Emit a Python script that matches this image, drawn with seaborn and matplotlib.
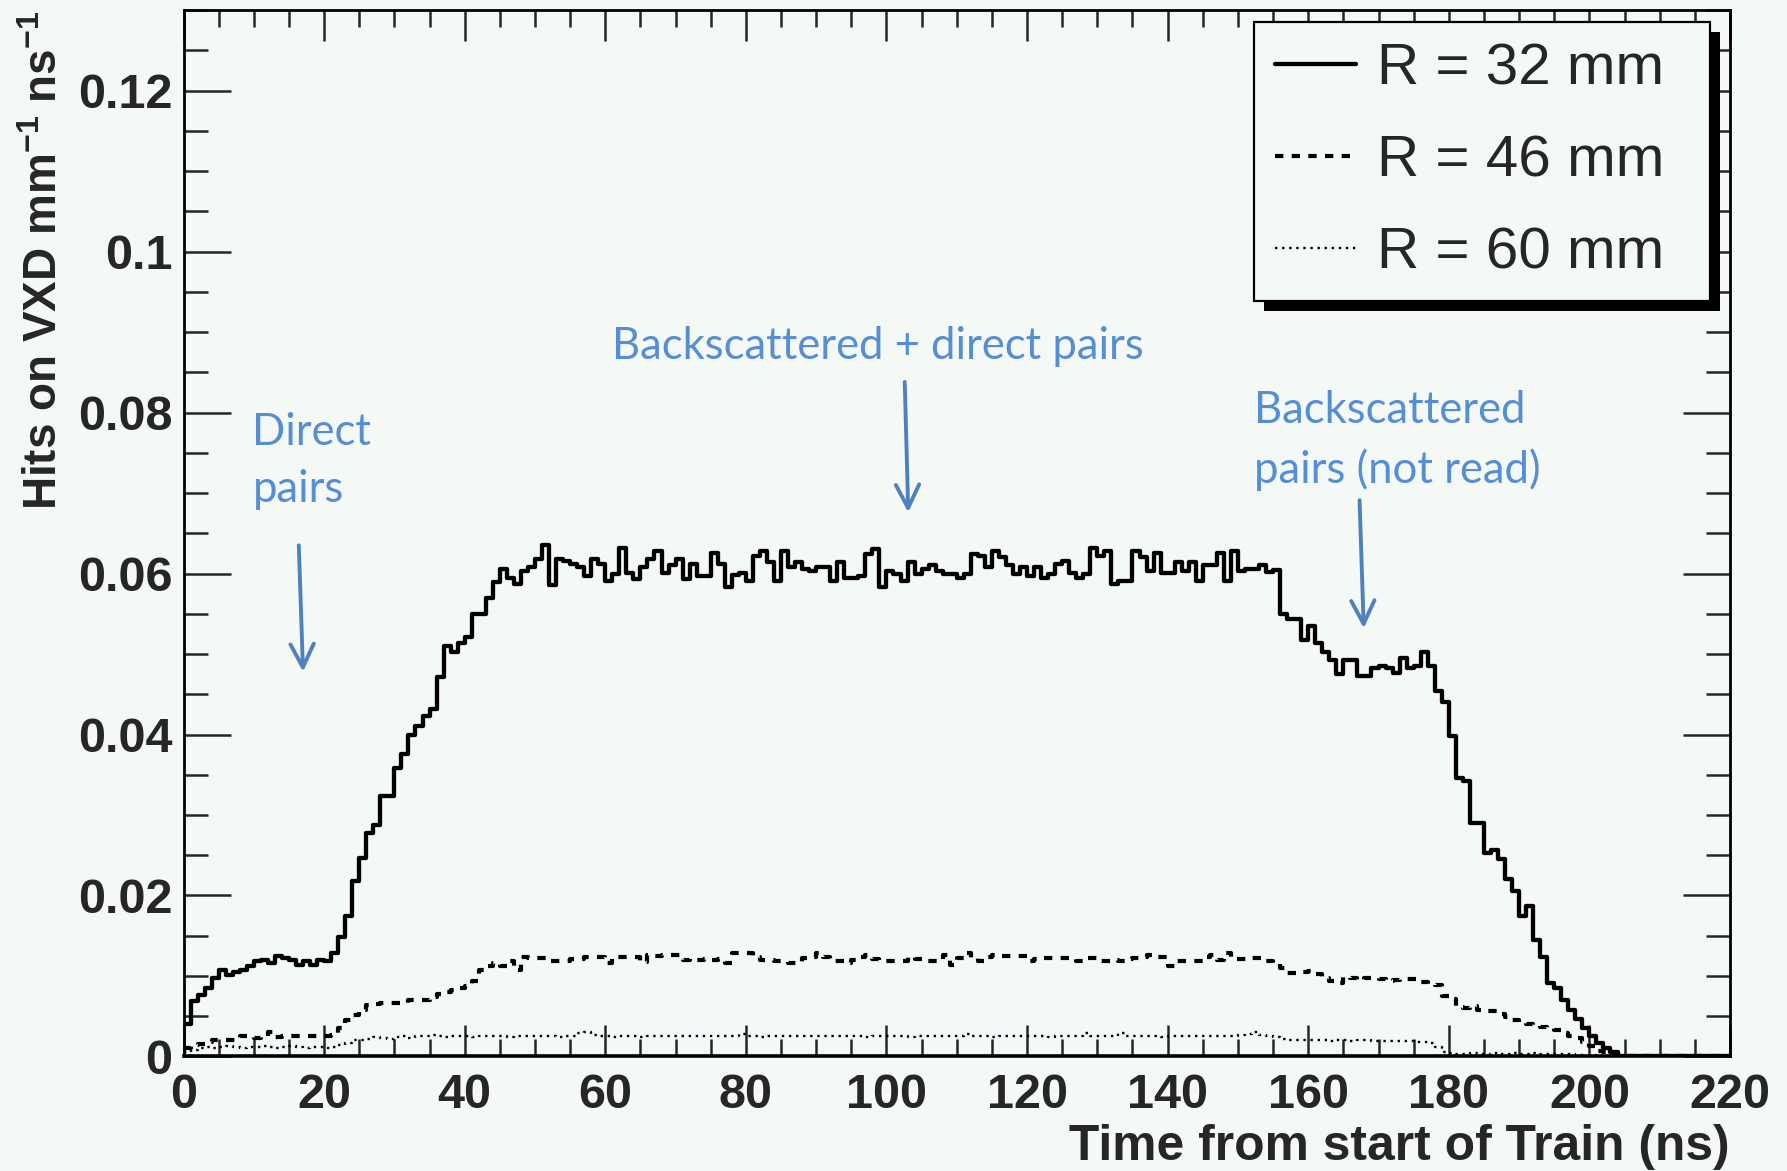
import numpy as np
import pandas as pd
import matplotlib
matplotlib.use("Agg")
import matplotlib.pyplot as plt
import seaborn as sns
from matplotlib.lines import Line2D
from matplotlib.patches import Rectangle
from matplotlib.ticker import MultipleLocator

# hits on VXD per 1 ns bin, starting at t = 0 ns (bins after the last value are empty)
r32_hits = [
    0.0040, 0.0069, 0.0076, 0.0085, 0.0098, 0.0107, 0.0101, 0.0105, 0.0108, 0.0113,
    0.0118, 0.0120, 0.0116, 0.0125, 0.0122, 0.0120, 0.0114, 0.0118, 0.0114, 0.0120,
    0.0118, 0.0128, 0.0149, 0.0174, 0.0218, 0.0247, 0.0278, 0.0287, 0.0323, 0.0323,
    0.0358, 0.0376, 0.0399, 0.0410, 0.0423, 0.0432, 0.0472, 0.0510, 0.0503, 0.0514,
    0.0521, 0.0550, 0.0550, 0.0570, 0.0590, 0.0606, 0.0595, 0.0587, 0.0603, 0.0608,
    0.0618, 0.0636, 0.0586, 0.0618, 0.0615, 0.0612, 0.0608, 0.0597, 0.0618, 0.0612,
    0.0591, 0.0599, 0.0632, 0.0601, 0.0593, 0.0608, 0.0618, 0.0628, 0.0601, 0.0610,
    0.0618, 0.0593, 0.0612, 0.0597, 0.0597, 0.0626, 0.0612, 0.0583, 0.0598, 0.0601,
    0.0591, 0.0622, 0.0628, 0.0614, 0.0591, 0.0628, 0.0608, 0.0614, 0.0605, 0.0603,
    0.0608, 0.0608, 0.0591, 0.0614, 0.0595, 0.0595, 0.0597, 0.0624, 0.0630, 0.0583,
    0.0603, 0.0599, 0.0591, 0.0614, 0.0599, 0.0605, 0.0610, 0.0603, 0.0599, 0.0599,
    0.0595, 0.0599, 0.0624, 0.0622, 0.0608, 0.0628, 0.0620, 0.0610, 0.0599, 0.0608,
    0.0597, 0.0608, 0.0595, 0.0599, 0.0612, 0.0616, 0.0601, 0.0595, 0.0599, 0.0632,
    0.0622, 0.0628, 0.0587, 0.0591, 0.0591, 0.0628, 0.0620, 0.0603, 0.0626, 0.0601,
    0.0601, 0.0614, 0.0603, 0.0614, 0.0591, 0.0610, 0.0610, 0.0626, 0.0591, 0.0628,
    0.0603, 0.0606, 0.0606, 0.0610, 0.0602, 0.0604, 0.0550, 0.0543, 0.0543, 0.0518,
    0.0535, 0.0514, 0.0502, 0.0492, 0.0475, 0.0492, 0.0492, 0.0473, 0.0473, 0.0483,
    0.0485, 0.0483, 0.0477, 0.0495, 0.0483, 0.0485, 0.0503, 0.0485, 0.0454, 0.0440,
    0.0398, 0.0346, 0.0342, 0.0290, 0.0290, 0.0253, 0.0257, 0.0245, 0.0220, 0.0205,
    0.0174, 0.0187, 0.0145, 0.0124, 0.0091, 0.0085, 0.0070, 0.0058, 0.0046, 0.0035,
    0.0025, 0.0017, 0.0010, 0.0006,
]

r46_hits = [
    0.0010, 0.0014, 0.0016, 0.0018, 0.0021, 0.0020, 0.0021, 0.0021, 0.0026, 0.0024,
    0.0023, 0.0026, 0.0030, 0.0024, 0.0025, 0.0026, 0.0026, 0.0026, 0.0026, 0.0026,
    0.0026, 0.0027, 0.0035, 0.0045, 0.0052, 0.0058, 0.0064, 0.0065, 0.0067, 0.0066,
    0.0067, 0.0067, 0.0070, 0.0070, 0.0070, 0.0074, 0.0078, 0.0080, 0.0083, 0.0085,
    0.0088, 0.0094, 0.0108, 0.0112, 0.0116, 0.0113, 0.0119, 0.0108, 0.0123, 0.0122,
    0.0122, 0.0122, 0.0119, 0.0119, 0.0119, 0.0121, 0.0121, 0.0123, 0.0123, 0.0123,
    0.0116, 0.0123, 0.0123, 0.0123, 0.0123, 0.0117, 0.0126, 0.0125, 0.0126, 0.0126,
    0.0126, 0.0120, 0.0121, 0.0120, 0.0121, 0.0120, 0.0121, 0.0116, 0.0128, 0.0128,
    0.0128, 0.0124, 0.0120, 0.0120, 0.0119, 0.0119, 0.0116, 0.0116, 0.0122, 0.0124,
    0.0128, 0.0123, 0.0119, 0.0118, 0.0116, 0.0120, 0.0124, 0.0126, 0.0121, 0.0118,
    0.0118, 0.0118, 0.0118, 0.0123, 0.0121, 0.0119, 0.0119, 0.0119, 0.0126, 0.0114,
    0.0122, 0.0129, 0.0122, 0.0119, 0.0124, 0.0126, 0.0125, 0.0125, 0.0125, 0.0125,
    0.0119, 0.0121, 0.0122, 0.0122, 0.0122, 0.0122, 0.0121, 0.0119, 0.0122, 0.0122,
    0.0119, 0.0119, 0.0120, 0.0119, 0.0121, 0.0122, 0.0124, 0.0126, 0.0124, 0.0123,
    0.0112, 0.0119, 0.0119, 0.0119, 0.0119, 0.0124, 0.0126, 0.0120, 0.0129, 0.0121,
    0.0121, 0.0121, 0.0122, 0.0122, 0.0119, 0.0116, 0.0110, 0.0104, 0.0104, 0.0105,
    0.0106, 0.0102, 0.0097, 0.0094, 0.0091, 0.0099, 0.0097, 0.0095, 0.0097, 0.0098,
    0.0096, 0.0094, 0.0095, 0.0096, 0.0096, 0.0096, 0.0092, 0.0090, 0.0089, 0.0075,
    0.0071, 0.0062, 0.0060, 0.0063, 0.0058, 0.0057, 0.0056, 0.0053, 0.0049, 0.0045,
    0.0042, 0.0040, 0.0039, 0.0036, 0.0035, 0.0033, 0.0029, 0.0025, 0.0023, 0.0018,
    0.0013, 0.0007, 0.0005, 0.0003,
]

r60_hits = [
    0.0005, 0.0008, 0.0011, 0.0012, 0.0011, 0.0012, 0.0013, 0.0012, 0.0011, 0.0012,
    0.0012, 0.0013, 0.0012, 0.0011, 0.0012, 0.0013, 0.0012, 0.0011, 0.0012, 0.0012,
    0.0011, 0.0012, 0.0014, 0.0017, 0.0020, 0.0021, 0.0022, 0.0024, 0.0023, 0.0022,
    0.0024, 0.0025, 0.0023, 0.0026, 0.0025, 0.0027, 0.0025, 0.0024, 0.0025, 0.0026,
    0.0025, 0.0024, 0.0025, 0.0026, 0.0025, 0.0025, 0.0024, 0.0026, 0.0025, 0.0025,
    0.0026, 0.0025, 0.0025, 0.0024, 0.0025, 0.0026, 0.0029, 0.0030, 0.0027, 0.0025,
    0.0025, 0.0024, 0.0025, 0.0025, 0.0025, 0.0024, 0.0025, 0.0025, 0.0025, 0.0025,
    0.0025, 0.0025, 0.0025, 0.0026, 0.0025, 0.0025, 0.0025, 0.0026, 0.0025, 0.0028,
    0.0025, 0.0025, 0.0024, 0.0025, 0.0025, 0.0025, 0.0025, 0.0025, 0.0025, 0.0025,
    0.0025, 0.0025, 0.0025, 0.0025, 0.0026, 0.0025, 0.0025, 0.0024, 0.0025, 0.0025,
    0.0025, 0.0025, 0.0025, 0.0024, 0.0025, 0.0025, 0.0026, 0.0025, 0.0025, 0.0025,
    0.0025, 0.0028, 0.0026, 0.0025, 0.0025, 0.0024, 0.0025, 0.0025, 0.0026, 0.0025,
    0.0025, 0.0025, 0.0025, 0.0024, 0.0025, 0.0025, 0.0025, 0.0026, 0.0029, 0.0025,
    0.0025, 0.0025, 0.0026, 0.0029, 0.0025, 0.0025, 0.0025, 0.0025, 0.0025, 0.0024,
    0.0025, 0.0025, 0.0026, 0.0025, 0.0025, 0.0025, 0.0025, 0.0025, 0.0025, 0.0026,
    0.0027, 0.0028, 0.0030, 0.0027, 0.0025, 0.0024, 0.0022, 0.0021, 0.0020, 0.0020,
    0.0021, 0.0020, 0.0020, 0.0019, 0.0020, 0.0020, 0.0019, 0.0020, 0.0020, 0.0019,
    0.0019, 0.0019, 0.0019, 0.0019, 0.0019, 0.0018, 0.0018, 0.0017, 0.0012, 0.0006,
    0.0004, 0.0003, 0.0003, 0.0004, 0.0003, 0.0003, 0.0004, 0.0003, 0.0003, 0.0004,
    0.0003, 0.0003, 0.0004, 0.0003, 0.0003, 0.0003, 0.0003, 0.0003, 0.0002, 0.0002,
    0.0002,
]

series_labels = ["R = 32 mm", "R = 46 mm", "R = 60 mm"]
x_ticks = [0, 20, 40, 60, 80, 100, 120, 140, 160, 180, 200, 220]
x_tick_labels = ["0", "20", "40", "60", "80", "100", "120", "140", "160", "180", "200", "220"]
y_ticks = [0, 0.02, 0.04, 0.06, 0.08, 0.1, 0.12]
y_tick_labels = ["0", "0.02", "0.04", "0.06", "0.08", "0.1", "0.12"]

bg = "#f5f9f6"
text_blue = "#558ed5"
arrow_blue = "#4f81bd"

sns.set_style("ticks")
plt.rcParams["font.family"] = ["Liberation Sans", "DejaVu Sans"]
plt.rcParams["mathtext.fontset"] = "custom"
plt.rcParams["mathtext.rm"] = "Liberation Sans"
plt.rcParams["mathtext.bf"] = "Liberation Sans:bold"

fig = plt.figure(figsize=(17.87, 11.71), dpi=100, facecolor=bg)
ax = fig.add_axes([0.1027, 0.0978, 0.8654, 0.8936])
ax.set_facecolor(bg)

# 1 ns histogram bins over the full time axis (0..220 ns), drawn as steps
n_bins = 220
edges = np.arange(0, n_bins + 1, 1)
styles = [("-", 3.1), ((0, (2.0, 2.0)), 3.0), ((0, (1.0, 2.0)), 1.7)]
for hits, (ls, lw) in zip([r32_hits, r46_hits, r60_hits], styles):
    heights = hits + [0.0] * (n_bins - len(hits))
    df = pd.DataFrame({"t": edges, "h": heights + [heights[-1]]})
    sns.lineplot(data=df, x="t", y="h", estimator=None, sort=False,
                 drawstyle="steps-post", color="black", linewidth=lw,
                 linestyle=ls, dash_capstyle="butt", ax=ax)

ax.set_xlim(0, 220)
ax.set_ylim(0, 0.13)

ax.set_xticks(x_ticks)
ax.set_xticklabels(x_tick_labels, fontsize=35, fontweight="bold")
ax.set_yticks(y_ticks)
ax.set_yticklabels(y_tick_labels, fontsize=35, fontweight="bold")
ax.xaxis.set_minor_locator(MultipleLocator(5))
ax.yaxis.set_minor_locator(MultipleLocator(0.005))

ax.tick_params(axis="y", which="major", direction="in", length=34, width=1.8,
               left=True, right=True, pad=8)
ax.tick_params(axis="y", which="minor", direction="in", length=17, width=1.8,
               left=True, right=True)
ax.tick_params(axis="x", which="major", direction="in", length=22, width=1.8,
               bottom=True, top=True, pad=12)
ax.tick_params(axis="x", which="minor", direction="in", length=12, width=1.8,
               bottom=True, top=True)
for side in ["left", "right", "top", "bottom"]:
    ax.spines[side].set_visible(True)
    ax.spines[side].set_linewidth(2.0)
    ax.spines[side].set_color("black")
ax.spines["bottom"].set_linewidth(2.6)

ax.set_xlabel("Time from start of Train (ns)", loc="right", fontsize=35.8,
              fontweight="bold", labelpad=4)
ax.set_ylabel(r"Hits on VXD mm$^{\mathbf{-1}}$ ns$^{\mathbf{-1}}$", loc="top",
              fontsize=33, fontweight="bold", labelpad=8)

# annotations
ann_font = dict(color=text_blue, fontsize=31.4, family=["Lato", "DejaVu Sans"],
                linespacing=1.5)
ax.text(9.8, 0.0801, "Direct\npairs", ha="left", va="top", **ann_font)
ax.text(61.0, 0.0882, "Backscattered + direct pairs", ha="left", va="center", **ann_font)
ax.text(152.3, 0.0828, "Backscattered\npairs (not read)", ha="left", va="top", **ann_font)

arrow_kw = dict(arrowstyle="->,head_length=1.4,head_width=0.7", color=arrow_blue,
                lw=2.8, shrinkA=0, shrinkB=0, mutation_scale=12)
for start, end in [((16.4, 0.0635), (17.0, 0.0478)),
                   ((102.6, 0.0838), (103.1, 0.0676)),
                   ((167.3, 0.0691), (167.9, 0.0532))]:
    ax.annotate("", xy=end, xytext=start, arrowprops=arrow_kw)

# ROOT style legend with a solid shadow
handles = [Line2D([], [], color="black", lw=lw, ls=ls, dash_capstyle="butt")
           for ls, lw in styles]
leg = ax.legend(handles, series_labels, loc="upper left",
                bbox_to_anchor=(0.692, 0.729, 0.2948, 0.26), mode="expand",
                fontsize=42, frameon=True, fancybox=False, framealpha=1,
                edgecolor="black", facecolor=bg, borderpad=0.36,
                handlelength=1.4, handletextpad=0.35, labelspacing=0.65,
                borderaxespad=0)
leg.get_frame().set_linewidth(1.6)
leg.set_zorder(10)

fig.canvas.draw()
bb = leg.legendPatch.get_window_extent(fig.canvas.get_renderer())
inv = ax.transAxes.inverted()
(sx0, sy0) = inv.transform((bb.x0 + 10, bb.y0 - 10))
(sx1, sy1) = inv.transform((bb.x1 + 10, bb.y1 - 10))
ax.add_patch(Rectangle((sx0, sy0), sx1 - sx0, sy1 - sy0, transform=ax.transAxes,
                       facecolor="black", edgecolor="none", zorder=9, clip_on=False))

fig.savefig("out.png", dpi=100, facecolor=bg)
